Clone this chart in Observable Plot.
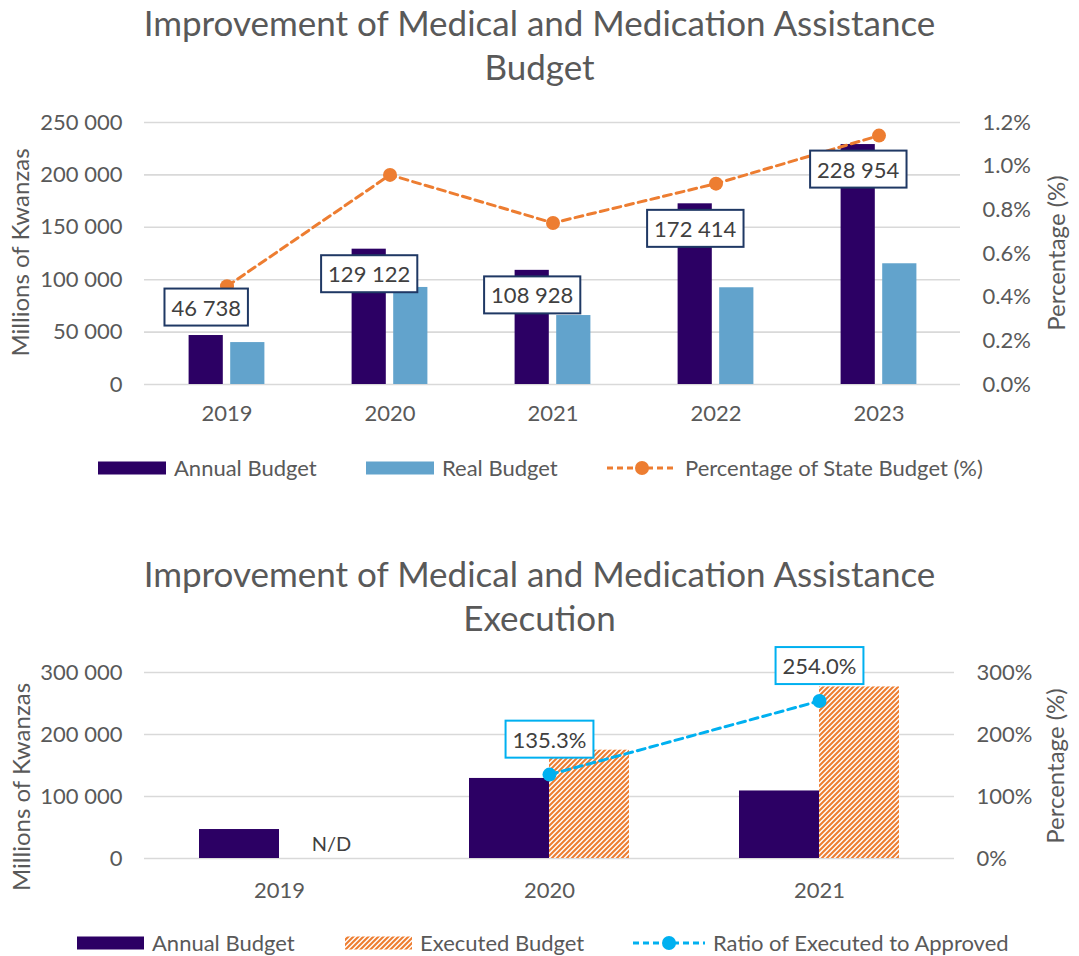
<!DOCTYPE html>
<html><head><meta charset="utf-8">
<script src="https://cdn.jsdelivr.net/npm/d3@7"></script>
<script src="https://cdn.jsdelivr.net/npm/@observablehq/plot@0.6"></script>
<style>
body{margin:0;background:#fff;font-family:Lato,sans-serif;color:#595959;}
#root{position:relative;width:1079px;height:956px;overflow:hidden;background:#fff;}
.tline{position:absolute;left:0;width:1079px;text-align:center;font-size:35px;line-height:40px;white-space:nowrap;color:#595959;}
.leg{position:absolute;display:flex;align-items:center;font-size:22px;line-height:30px;height:30px;white-space:nowrap;color:#595959;}
.leg svg{display:block;margin-right:8px;}
.chart{position:absolute;left:0;}
</style></head>
<body>
<div id="root">
<svg width="0" height="0" style="position:absolute"><defs>
<pattern id="hatch" patternUnits="userSpaceOnUse" width="5" height="5">
<rect width="5" height="5" fill="#fff"/>
<path d="M-1.25,1.25 l2.5,-2.5 M0,5 l5,-5 M3.75,6.25 l2.5,-2.5" stroke="#ED7D31" stroke-width="2.1"/>
</pattern></defs></svg>
</div>
<script>
// ---------- DATA ----------
const title1 = ["Improvement of Medical and Medication Assistance", "Budget"];
const title2 = ["Improvement of Medical and Medication Assistance", "Execution"];
const years1 = ["2019", "2020", "2021", "2022", "2023"];
const annualBudget1 = [46738, 129122, 108928, 172414, 228954];
const realBudget1 = [40000, 92600, 65800, 92300, 115200];
const statePct1 = [0.45, 0.96, 0.74, 0.92, 1.14];
const yTicks1 = [0, 50000, 100000, 150000, 200000, 250000];
const pctTicks1 = [0, 0.2, 0.4, 0.6, 0.8, 1.0, 1.2];
const legend1 = ["Annual Budget", "Real Budget", "Percentage of State Budget (%)"];

const years2 = ["2019", "2020", "2021"];
const annualBudget2 = [46738, 129122, 108928];
const executedBudget2 = [null, 174700, 276700];
const ratioPct2 = [null, 135.3, 254.0];
const missingLabel2 = "N/D";
const yTicks2 = [0, 100000, 200000, 300000];
const pctTicks2 = [0, 100, 200, 300];
const legend2 = ["Annual Budget", "Executed Budget", "Ratio of Executed to Approved"];

const yAxisTitle = "Millions of Kwanzas";
const pAxisTitle = "Percentage (%)";

// ---------- STYLE ----------
const C_ANNUAL = "#2C0064", C_REAL = "#62A3CC", C_ORANGE = "#ED7D31", C_CYAN = "#00B0F0";
const C_TEXT = "#595959", C_GRID = "#D9D9D9", C_LABEL = "#404040";
const FONT = "Lato, sans-serif";
const spaceFmt = d => d3.format(",")(d).replace(/,/g, " ");
const root = document.getElementById("root");
const NS = "http://www.w3.org/2000/svg";

function addTitle(lines, tops) {
  lines.forEach((t, i) => {
    const d = document.createElement("div");
    d.className = "tline"; d.style.top = tops[i] + "px"; d.textContent = t;
    root.appendChild(d);
  });
}
function swatch(kind, color, w) {
  const s = document.createElementNS(NS, "svg");
  s.setAttribute("width", w); s.setAttribute("height", 16);
  if (kind === "rect") {
    s.innerHTML = `<rect x="0" y="1.5" width="${w}" height="13" fill="${color}"/>`;
  } else {
    s.innerHTML = `<line x1="0" x2="${w}" y1="8" y2="8" stroke="${color}" stroke-width="3" stroke-dasharray="6,4"/><circle cx="${w/2}" cy="8" r="7" fill="${color}"/>`;
  }
  return s;
}
function addLegend(items, yCenter) {
  items.forEach(it => {
    const d = document.createElement("div");
    d.className = "leg"; d.style.left = it.left + "px"; d.style.top = (yCenter - 15) + "px";
    d.appendChild(swatch(it.kind, it.color, it.w));
    const sp = document.createElement("span"); sp.textContent = it.text; d.appendChild(sp);
    root.appendChild(d);
  });
}
function boxLabels(svg, cls, stroke) {
  svg.querySelectorAll(`g.${cls} text`).forEach(t => {
    const b = t.getBBox();
    const padX = 7, h = 37;
    const r = document.createElementNS(NS, "rect");
    r.setAttribute("x", b.x - padX);
    r.setAttribute("y", b.y + b.height / 2 - h / 2);
    r.setAttribute("width", b.width + 2 * padX);
    r.setAttribute("height", h);
    r.setAttribute("fill", "#fff");
    r.setAttribute("stroke", stroke);
    r.setAttribute("stroke-width", 2);
    if (t.getAttribute("transform")) r.setAttribute("transform", t.getAttribute("transform"));
    t.parentNode.insertBefore(r, t);
  });
}
function axisTitle(svg, text, x, y) {
  d3.select(svg).append("text")
    .attr("transform", `translate(${x},${y}) rotate(-90)`)
    .attr("text-anchor", "middle").attr("dy", "0.35em")
    .attr("fill", C_TEXT).attr("font-size", 24).attr("font-family", FONT)
    .text(text);
}

// ---------- CHART 1 ----------
addTitle(title1, [2, 46]);
const rows1 = years1.map((year, i) => ({year, annual: annualBudget1[i], real: realBudget1[i], pct: statePct1[i]}));
const Y1MAX = yTicks1[yTicks1.length - 1], P1MAX = pctTicks1[pctTicks1.length - 1];
const toY1 = p => p / P1MAX * Y1MAX;

const plot1 = Plot.plot({
  width: 1079, height: 330,
  marginLeft: 144, marginRight: 119, marginTop: 22, marginBottom: 46,
  style: {fontFamily: FONT, fontSize: "22px", color: C_TEXT, background: "transparent", overflow: "visible"},
  x: {domain: years1, padding: 0, label: null},
  y: {domain: [0, Y1MAX], label: null},
  marks: [
    Plot.gridY(yTicks1, {stroke: C_GRID, strokeOpacity: 1, strokeWidth: 1.6}),
    Plot.axisX({tickSize: 0, tickPadding: 21, label: null, fill: C_TEXT}),
    Plot.axisY({anchor: "left", ticks: yTicks1, tickSize: 0, tickPadding: 22, tickFormat: spaceFmt, label: null, fill: C_TEXT}),
    Plot.axisY({anchor: "right", ticks: pctTicks1.map(toY1), tickSize: 0, tickPadding: 22,
      tickFormat: d => (d / Y1MAX * P1MAX).toFixed(1) + "%", label: null, fill: C_TEXT}),
    Plot.barY(rows1, {x: "year", y: "annual", fill: C_ANNUAL, insetLeft: 43.6, insetRight: 85.2}),
    Plot.barY(rows1, {x: "year", y: "real", fill: C_REAL, insetLeft: 85.2, insetRight: 43.6}),
    Plot.line(rows1, {x: "year", y: d => toY1(d.pct), stroke: C_ORANGE, strokeWidth: 3, strokeDasharray: "8,5"}),
    Plot.dot(rows1, {x: "year", y: d => toY1(d.pct), r: 7, fill: C_ORANGE}),
    Plot.text(rows1.filter(d => d.annual < 60000), {x: "year", y: "annual", text: d => spaceFmt(d.annual),
      dx: -20.8, dy: -27, fill: C_LABEL, fontSize: 22, className: "lbl1"}),
    Plot.text(rows1.filter(d => d.annual >= 60000), {x: "year", y: "annual", text: d => spaceFmt(d.annual),
      dx: -20.8, dy: 26, fill: C_LABEL, fontSize: 22, className: "lbl1"})
  ]
});
plot1.classList.add("chart");
plot1.style.top = "100px";
root.appendChild(plot1);
boxLabels(plot1, "lbl1", "#1F3864");
axisTitle(plot1, yAxisTitle, 21, 152.5);
axisTitle(plot1, pAxisTitle, 1057, 153);

addLegend([
  {left: 98, kind: "rect", color: C_ANNUAL, w: 68, text: legend1[0]},
  {left: 366, kind: "rect", color: C_REAL, w: 68, text: legend1[1]},
  {left: 607, kind: "line", color: C_ORANGE, w: 70, text: legend1[2]}
], 468);

// ---------- CHART 2 ----------
addTitle(title2, [553, 597]);
const rows2 = years2.map((year, i) => ({year, annual: annualBudget2[i], executed: executedBudget2[i], ratio: ratioPct2[i]}));
const Y2MAX = yTicks2[yTicks2.length - 1], P2MAX = pctTicks2[pctTicks2.length - 1];
const toY2 = p => p / P2MAX * Y2MAX;
const withExec = rows2.filter(d => d.executed != null);
const withRatio = rows2.filter(d => d.ratio != null);

const plot2 = Plot.plot({
  width: 1079, height: 278,
  marginLeft: 144, marginRight: 125, marginTop: 32, marginBottom: 60,
  style: {fontFamily: FONT, fontSize: "22px", color: C_TEXT, background: "transparent", overflow: "visible"},
  x: {domain: years2, padding: 0, label: null},
  y: {domain: [0, Y2MAX], label: null},
  marks: [
    Plot.gridY(yTicks2, {stroke: C_GRID, strokeOpacity: 1, strokeWidth: 1.6}),
    Plot.axisX({tickSize: 0, tickPadding: 24, label: null, fill: C_TEXT}),
    Plot.axisY({anchor: "left", ticks: yTicks2, tickSize: 0, tickPadding: 22, tickFormat: spaceFmt, label: null, fill: C_TEXT}),
    Plot.axisY({anchor: "right", ticks: pctTicks2.map(toY2), tickSize: 0, tickPadding: 22,
      tickFormat: d => Math.round(d / Y2MAX * P2MAX) + "%", label: null, fill: C_TEXT}),
    Plot.barY(rows2, {x: "year", y: "annual", fill: C_ANNUAL, insetLeft: 55, insetRight: 135}),
    Plot.barY(withExec, {x: "year", y: "executed", fill: "url(#hatch)", insetLeft: 135, insetRight: 55}),
    Plot.text(rows2.filter(d => d.executed == null), {x: "year", y: 0, text: () => missingLabel2,
      dx: 52, dy: -14, fill: C_LABEL, fontSize: 20}),
    Plot.line(withRatio, {x: "year", y: d => toY2(d.ratio), stroke: C_CYAN, strokeWidth: 3, strokeDasharray: "8,5"}),
    Plot.dot(withRatio, {x: "year", y: d => toY2(d.ratio), r: 7, fill: C_CYAN}),
    Plot.text(withRatio, {x: "year", y: d => toY2(d.ratio), text: d => d.ratio.toFixed(1) + "%",
      dy: -34, fill: C_LABEL, fontSize: 22, className: "lbl2"})
  ]
});
plot2.classList.add("chart");
plot2.style.top = "640px";
root.appendChild(plot2);
boxLabels(plot2, "lbl2", C_CYAN);
axisTitle(plot2, yAxisTitle, 21.5, 147);
axisTitle(plot2, pAxisTitle, 1056, 126);

addLegend([
  {left: 77, kind: "rect", color: C_ANNUAL, w: 67, text: legend2[0]},
  {left: 345, kind: "rect", color: "url(#hatch)", w: 67, text: legend2[1]},
  {left: 633, kind: "line", color: C_CYAN, w: 72, text: legend2[2]}
], 943);
</script>
</body></html>
